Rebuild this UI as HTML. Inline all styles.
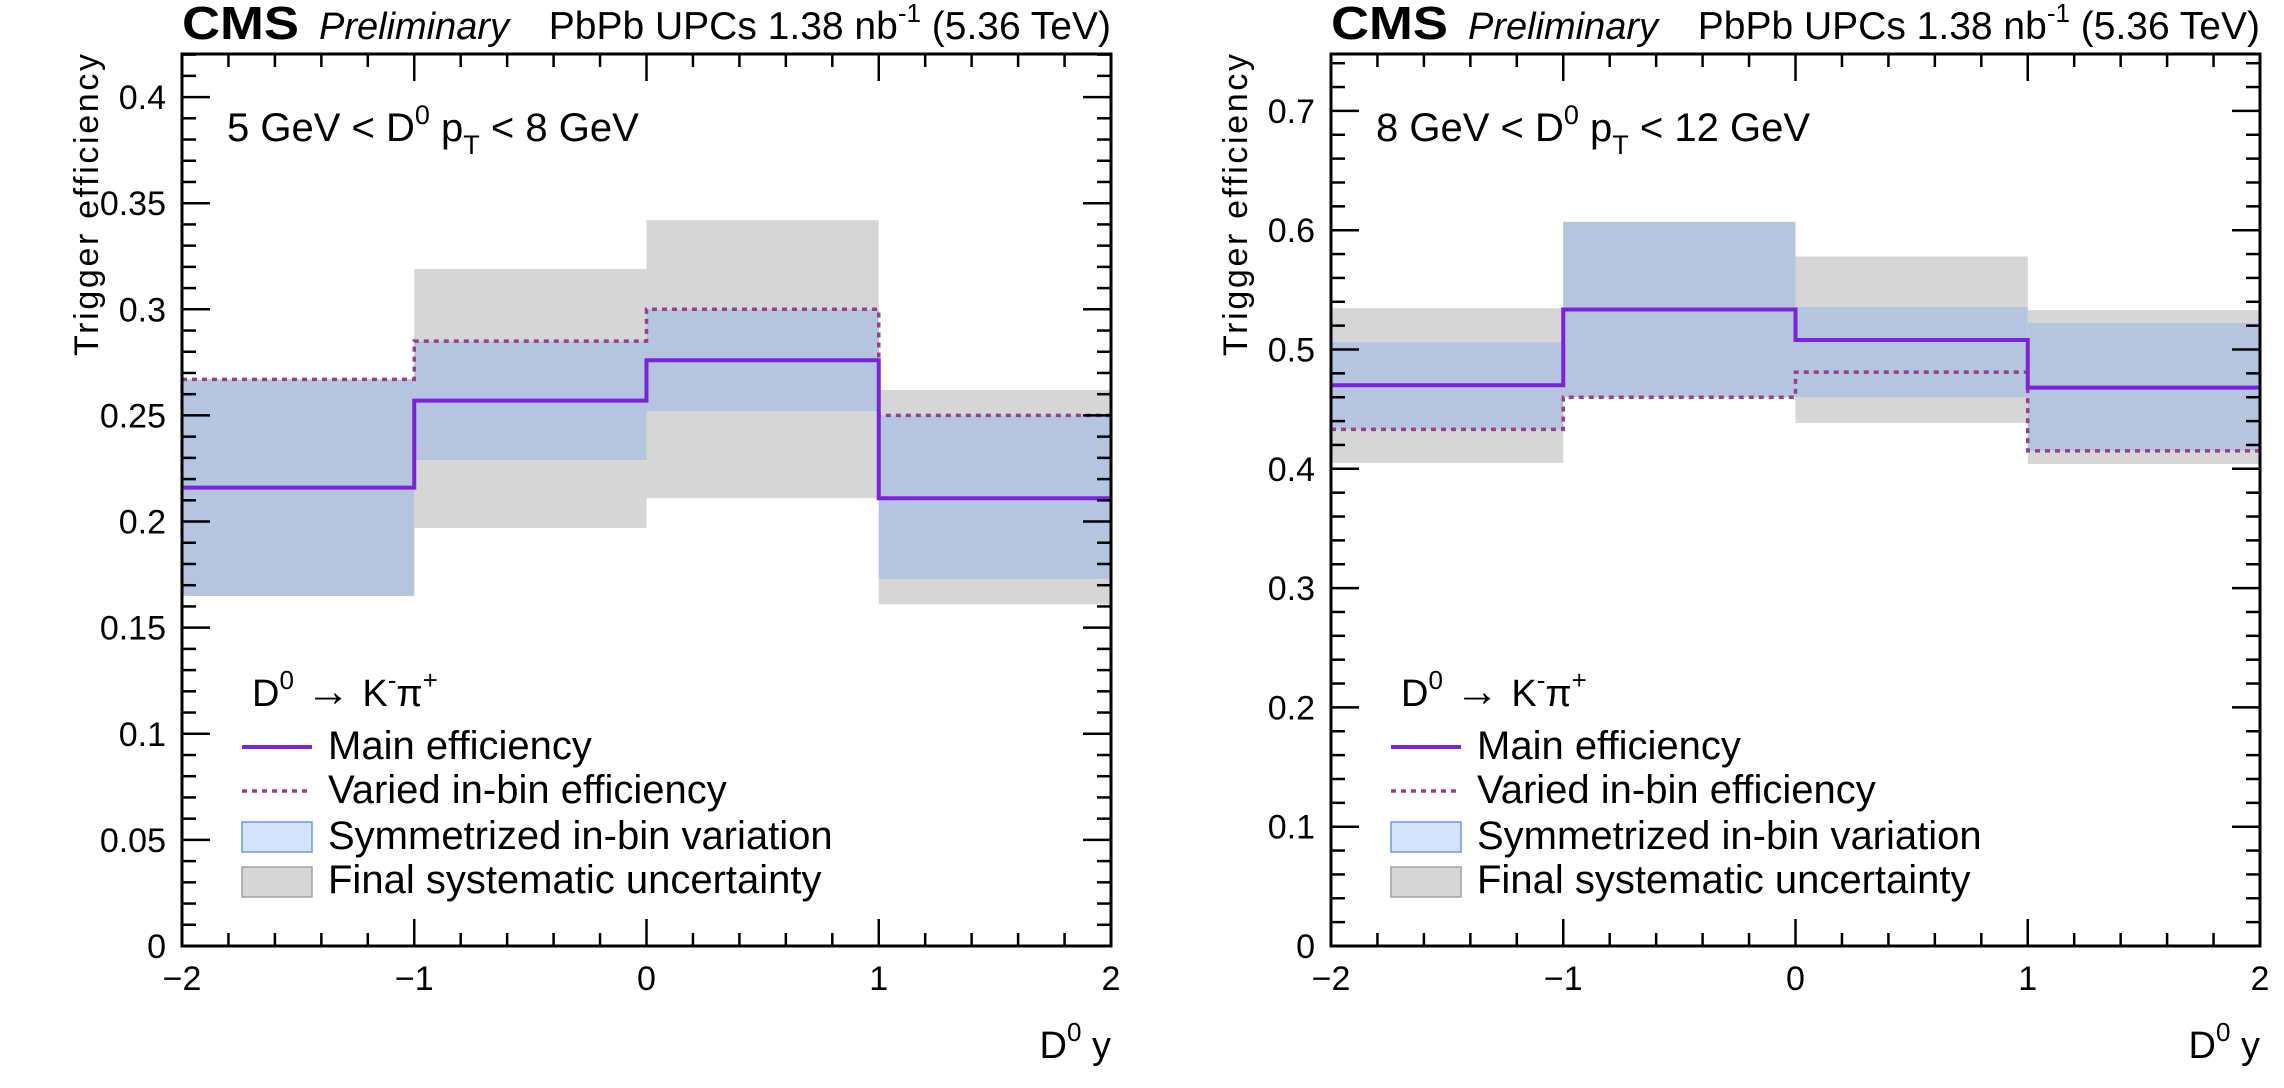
<!DOCTYPE html>
<html><head><meta charset="utf-8"><style>
html,body{margin:0;padding:0;background:#fff;}
svg{display:block;font-family:"Liberation Sans",Arial,sans-serif;}
</style></head><body>
<svg id="chart" width="2284" height="1088" viewBox="0 0 2284 1088" xmlns="http://www.w3.org/2000/svg"></svg>
<script>
const binEdges = [-2, -1, 0, 1, 2];
const xTickLabels = ["\u22122", "\u22121", "0", "1", "2"];
// left panel: 5 < pT < 8 GeV
const leftMain = [0.216, 0.257, 0.276, 0.211];
const leftVaried = [0.267, 0.285, 0.300, 0.250];
const leftBandLo = [0.165, 0.229, 0.252, 0.173];
const leftBandHi = [0.267, 0.285, 0.300, 0.250];
const leftSystLo = [0.165, 0.197, 0.211, 0.161];
const leftSystHi = [0.267, 0.319, 0.342, 0.262];
const leftYTicks = ["0", "0.05", "0.1", "0.15", "0.2", "0.25", "0.3", "0.35", "0.4"];
// right panel: 8 < pT < 12 GeV
const rightMain = [0.470, 0.5335, 0.508, 0.468];
const rightVaried = [0.433, 0.460, 0.481, 0.415];
const rightBandLo = [0.433, 0.460, 0.460, 0.415];
const rightBandHi = [0.506, 0.607, 0.5355, 0.522];
const rightSystLo = [0.405, 0.460, 0.4385, 0.404];
const rightSystHi = [0.5346, 0.607, 0.578, 0.533];
const rightYTicks = ["0", "0.1", "0.2", "0.3", "0.4", "0.5", "0.6", "0.7"];

const NS = "http://www.w3.org/2000/svg";
const svg = document.getElementById("chart");
function mk(tag, attrs, parent, text) {
  const e = document.createElementNS(NS, tag);
  for (const k in attrs) e.setAttribute(k, attrs[k]);
  if (text !== undefined) e.textContent = text;
  (parent || svg).appendChild(e);
  return e;
}

function panel(cfg) {
  const g = mk("g", {});
  
  
  const L = cfg.left, R = cfg.right, T = 54, B = 946;
  const xs = v => L + (v + 2) / 4 * (R - L);
  const ys = v => B - v / cfg.ymax * (B - T);

  for (let i = 0; i < 4; i++) {
    const r = mk("rect", {x: xs(binEdges[i]), y: ys(cfg.systHi[i]), width: xs(binEdges[i+1]) - xs(binEdges[i]), height: ys(cfg.systLo[i]) - ys(cfg.systHi[i]), fill: "#d6d6d6"}, g);
    
    
  }
  for (let i = 0; i < 4; i++) {
    const r = mk("rect", {x: xs(binEdges[i]), y: ys(cfg.bandHi[i]), width: xs(binEdges[i+1]) - xs(binEdges[i]), height: ys(cfg.bandLo[i]) - ys(cfg.bandHi[i]), fill: "#b5c4df"}, g);
    
    
  }
  function stepPath(vals) {
    let d = "";
    for (let i = 0; i < 4; i++) {
      d += (i === 0 ? "M" : "L") + xs(binEdges[i]) + "," + ys(vals[i]) + " L" + xs(binEdges[i+1]) + "," + ys(vals[i]);
    }
    return d;
  }
  const pv = mk("path", {d: stepPath(cfg.varied), fill: "none", stroke: "#983f8e", "stroke-width": 3.5, "stroke-dasharray": "5,5"}, g);
  
  
  const pm = mk("path", {d: stepPath(cfg.main), fill: "none", stroke: "#7a22dc", "stroke-width": 4}, g);
  
  

  const fr = mk("rect", {x: L, y: T, width: R - L, height: B - T, fill: "none", stroke: "#000", "stroke-width": 3}, g);
  
  

  const nMaj = cfg.yTicks.length;
  const step = cfg.ystep;
  for (let k = 0; k * step / 5 <= cfg.ymax + 1e-9; k++) {
    const v = k * step / 5, y = ys(v);
    const len = (k % 5 === 0) ? 28 : 14;
    mk("line", {x1: L, x2: L + len, y1: y, y2: y, stroke: "#000", "stroke-width": 2.5}, g);
    mk("line", {x1: R, x2: R - len, y1: y, y2: y, stroke: "#000", "stroke-width": 2.5}, g);
  }
  for (let j = 0; j < nMaj; j++) {
    const t = mk("text", {x: L - 16, y: ys(j * step) + 12, "text-anchor": "end", "font-size": 34}, g, cfg.yTicks[j]);
    
    
  }
  for (let k = 0; k <= 20; k++) {
    const x = xs(-2 + k * 0.2);
    const len = (k % 5 === 0) ? 27 : 13;
    mk("line", {x1: x, x2: x, y1: B, y2: B - len, stroke: "#000", "stroke-width": 2.5}, g);
    mk("line", {x1: x, x2: x, y1: T, y2: T + len, stroke: "#000", "stroke-width": 2.5}, g);
  }
  for (let j = 0; j < 5; j++) {
    const t = mk("text", {x: xs(binEdges[j]), y: 990, "text-anchor": "middle", "font-size": 34}, g, xTickLabels[j]);
    
    
  }
  const xt = mk("text", {x: R, y: 1058, "text-anchor": "end", "font-size": 38}, g);
  
  
  xt.innerHTML = 'D<tspan dy="-17" font-size="26">0</tspan><tspan dy="17"> y</tspan>';
  const yt = mk("text", {x: 0, y: 0, "text-anchor": "end", "font-size": 34, transform: "translate(" + (L - 84) + "," + T + ") rotate(-90)", textLength: 302, lengthAdjust: "spacing"}, g, "Trigger efficiency");
  
  

  const h1 = mk("text", {x: L, y: 39, "font-size": 46, "font-weight": "bold", textLength: 117, lengthAdjust: "spacingAndGlyphs"}, g, "CMS");
  
  
  const h2 = mk("text", {x: L + 137, y: 39, "font-size": 38, "font-style": "italic"}, g, "Preliminary");
  
  
  const h3 = mk("text", {x: R, y: 39, "text-anchor": "end", "font-size": 39}, g);
  
  
  h3.innerHTML = 'PbPb UPCs 1.38 nb<tspan dy="-17" font-size="26">-1</tspan><tspan dy="17"> (5.36 TeV)</tspan>';

  const kl = mk("text", {x: L + 45, y: 141, "font-size": 40}, g);
  
  
  kl.innerHTML = cfg.lo + ' GeV &lt; D<tspan dy="-17" font-size="27">0</tspan><tspan dy="17"> p</tspan><tspan dy="13" font-size="27">T</tspan><tspan dy="-13"> &lt; ' + cfg.hi + ' GeV</tspan>';

  const lg = mk("g", {}, g);
  
  
  const lx = L + 60;
  const hd = mk("text", {x: lx + 10, y: 706, "font-size": 38}, lg);
  
  
  hd.innerHTML = 'D<tspan dy="-17" font-size="26">0</tspan><tspan dy="17" font-size="44"> \u2192 </tspan><tspan>K</tspan><tspan dy="-17" font-size="26">-</tspan><tspan dy="17">\u03c0</tspan><tspan dy="-17" font-size="26">+</tspan>';
  const entries = [["Main efficiency", 759], ["Varied in-bin efficiency", 803], ["Symmetrized in-bin variation", 849], ["Final systematic uncertainty", 893]];
  mk("line", {x1: lx, x2: lx + 70, y1: 747, y2: 747, stroke: "#7a22dc", "stroke-width": 4}, lg);
  mk("line", {x1: lx, x2: lx + 70, y1: 791, y2: 791, stroke: "#983f8e", "stroke-width": 3.5, "stroke-dasharray": "5,5"}, lg);
  mk("rect", {x: lx, y: 822, width: 70, height: 30, fill: "#d4e2fb", stroke: "#6a9ae8", "stroke-width": 1.5}, lg);
  mk("rect", {x: lx, y: 867, width: 70, height: 30, fill: "#d6d6d6", stroke: "#a0a0a0", "stroke-width": 1.5}, lg);
  for (const [txt, yy] of entries) {
    const t = mk("text", {x: lx + 86, y: yy, "font-size": 40}, lg, txt);
    
    
  }
}

panel({name: "left-panel", left: 182, right: 1111, ymax: 0.4203, ystep: 0.05, yTicks: leftYTicks,
  main: leftMain, varied: leftVaried, bandLo: leftBandLo, bandHi: leftBandHi, systLo: leftSystLo, systHi: leftSystHi, lo: "5", hi: "8"});
panel({name: "right-panel", left: 1331, right: 2260, ymax: 0.7477, ystep: 0.1, yTicks: rightYTicks,
  main: rightMain, varied: rightVaried, bandLo: rightBandLo, bandHi: rightBandHi, systLo: rightSystLo, systHi: rightSystHi, lo: "8", hi: "12"});
</script>
</body></html>
